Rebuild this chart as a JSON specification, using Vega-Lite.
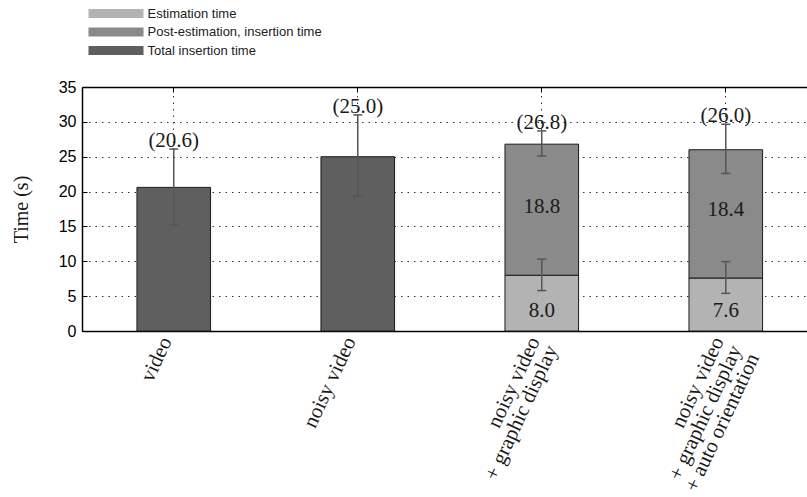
{
  "$schema": "https://vega.github.io/schema/vega-lite/v6.json",
  "width": 725,
  "height": 244,
  "autosize": {"type": "none"},
  "padding": {"left": 82, "top": 87, "right": 0, "bottom": 166},
  "background": "white",
  "data": {
    "values": [
      {"cond": "video", "part": "Total insertion time", "start": 0, "end": 20.6, "errLo": 15.2, "errHi": 26.1, "top": "(20.6)"},
      {"cond": "noisy video", "part": "Total insertion time", "start": 0, "end": 25.0, "errLo": 19.3, "errHi": 31.0, "top": "(25.0)"},
      {"cond": "noisy video + graphic display", "part": "Estimation time", "start": 0, "end": 8.0, "errLo": 5.8, "errHi": 10.3, "seg": "8.0"},
      {"cond": "noisy video + graphic display", "part": "Post-estimation, insertion time", "start": 8.0, "end": 26.8, "errLo": 25.1, "errHi": 28.7, "top": "(26.8)", "seg": "18.8"},
      {"cond": "noisy video + graphic display + auto orientation", "part": "Estimation time", "start": 0, "end": 7.6, "errLo": 5.4, "errHi": 9.95, "seg": "7.6"},
      {"cond": "noisy video + graphic display + auto orientation", "part": "Post-estimation, insertion time", "start": 7.6, "end": 26.0, "errLo": 22.6, "errHi": 29.65, "top": "(26.0)", "seg": "18.4"}
    ]
  },
  "resolve": {"axis": {"x": "independent"}},
  "layer": [
    {
      "mark": {"type": "rule", "opacity": 0},
      "encoding": {
        "x": {
          "field": "cond", "type": "nominal",
          "sort": ["video", "noisy video", "noisy video + graphic display", "noisy video + graphic display + auto orientation"],
          "scale": {"paddingInner": 0.6, "paddingOuter": 0.27, "align": 0.553},
          "axis": {
            "orient": "top", "title": null, "labels": false, "domain": true, "domainColor": "#000", "domainWidth": 1.5,
            "ticks": true, "tickSize": -5, "tickColor": "#000", "tickWidth": 1, "bandPosition": 0.5,
            "grid": true, "gridDash": [1.5, 5], "gridColor": "#333", "gridWidth": 1, "gridOpacity": 1
          }
        },
        "y": {"field": "errLo", "type": "quantitative", "title": "Time (s)", "scale": {"domain": [0, 35], "nice": false}},
        "y2": {"field": "errHi"}
      }
    },
    {
      "mark": {"type": "bar", "stroke": "#1a1a1a", "strokeWidth": 1},
      "encoding": {
        "x": {
          "field": "cond", "type": "nominal",
          "sort": ["video", "noisy video", "noisy video + graphic display", "noisy video + graphic display + auto orientation"],
          "axis": {
            "orient": "bottom", "title": null, "domain": true, "domainColor": "#000", "domainWidth": 1.5,
            "ticks": false, "grid": false,
            "labelAngle": -65, "labelAlign": "right", "labelBaseline": "middle", "labelPadding": 7, "labelOffset": -7,
            "labelFont": "Liberation Serif", "labelFontSize": 21, "labelLineHeight": 19.5, "labelColor": "#1a1a1a",
            "labelLimit": 0, "labelOverlap": false, "labelBound": false,
            "labelExpr": "datum.label == 'noisy video + graphic display' ? ['noisy video\u00a0\u00a0\u00a0\u00a0\u00a0\u00a0\u00a0\u00a0\u00a0', '+ graphic display'] : datum.label == 'noisy video + graphic display + auto orientation' ? ['noisy video\u00a0\u00a0\u00a0\u00a0\u00a0\u00a0\u00a0\u00a0\u00a0\u00a0', '+ graphic display', '+ auto orientation'] : datum.label"
          }
        },
        "y": {"field": "end", "type": "quantitative", "title": "Time (s)"},
        "y2": {"field": "start"},
        "color": {
          "field": "part", "type": "nominal",
          "scale": {
            "domain": ["Estimation time", "Post-estimation, insertion time", "Total insertion time"],
            "range": ["#b3b3b3", "#8a8a8a", "#5f5f5f"]
          },
          "legend": {
            "title": null, "orient": "none", "legendX": 5, "legendY": -80, "direction": "vertical",
            "symbolType": "M-5.5,-0.9H5.5V0.9H-5.5Z", "symbolSize": 100, "symbolStrokeWidth": 0, "symbolOpacity": 1,
            "symbolOffset": 22.5, "labelOffset": 25, "rowPadding": 4.5, "labelLimit": 0,
            "labelFont": "Liberation Sans", "labelFontSize": 13, "labelColor": "#222", "padding": 0
          }
        }
      }
    },
    {
      "mark": {"type": "rule", "color": "#555", "strokeWidth": 1.5},
      "encoding": {
        "x": {"field": "cond", "type": "nominal", "sort": ["video", "noisy video", "noisy video + graphic display", "noisy video + graphic display + auto orientation"], "axis": null},
        "y": {"field": "errLo", "type": "quantitative", "title": "Time (s)"},
        "y2": {"field": "errHi"}
      }
    },
    {
      "mark": {"type": "tick", "color": "#555", "size": 9, "thickness": 1.5, "opacity": 1},
      "encoding": {
        "x": {"field": "cond", "type": "nominal", "sort": ["video", "noisy video", "noisy video + graphic display", "noisy video + graphic display + auto orientation"], "axis": null},
        "y": {"field": "errLo", "type": "quantitative", "title": "Time (s)"}
      }
    },
    {
      "mark": {"type": "tick", "color": "#555", "size": 9, "thickness": 1.5, "opacity": 1},
      "encoding": {
        "x": {"field": "cond", "type": "nominal", "sort": ["video", "noisy video", "noisy video + graphic display", "noisy video + graphic display + auto orientation"], "axis": null},
        "y": {"field": "errHi", "type": "quantitative", "title": "Time (s)"}
      }
    },
    {
      "transform": [{"filter": "isValid(datum.top)"}],
      "mark": {"type": "text", "font": "Liberation Serif", "fontSize": 21, "color": "#1a1a1a", "baseline": "bottom", "dy": 2},
      "encoding": {
        "x": {"field": "cond", "type": "nominal", "sort": ["video", "noisy video", "noisy video + graphic display", "noisy video + graphic display + auto orientation"], "axis": null},
        "y": {"field": "errHi", "type": "quantitative", "title": "Time (s)"},
        "text": {"field": "top"}
      }
    },
    {
      "transform": [{"filter": "datum.part == 'Post-estimation, insertion time'"}],
      "mark": {"type": "text", "font": "Liberation Serif", "fontSize": 21, "color": "#1a1a1a", "baseline": "middle", "dy": -68},
      "encoding": {
        "x": {"field": "cond", "type": "nominal", "sort": ["video", "noisy video", "noisy video + graphic display", "noisy video + graphic display + auto orientation"], "axis": null},
        "y": {"field": "start", "type": "quantitative", "title": "Time (s)"},
        "text": {"field": "seg"}
      }
    },
    {
      "transform": [{"filter": "datum.part == 'Estimation time'"}],
      "mark": {"type": "text", "font": "Liberation Serif", "fontSize": 21, "color": "#1a1a1a", "baseline": "middle", "dy": -20},
      "encoding": {
        "x": {"field": "cond", "type": "nominal", "sort": ["video", "noisy video", "noisy video + graphic display", "noisy video + graphic display + auto orientation"], "axis": null},
        "y": {"field": "start", "type": "quantitative", "title": "Time (s)"},
        "text": {"field": "seg"}
      }
    }
  ],
  "config": {
    "view": {"stroke": null},
    "axisY": {
      "tickCount": 7,
      "grid": true, "gridDash": [1.5, 5], "gridColor": "#333", "gridWidth": 1, "gridOpacity": 1,
      "domain": true, "domainColor": "#000", "domainWidth": 1.5,
      "ticks": true, "tickSize": -5, "tickColor": "#000", "tickWidth": 1,
      "labelFont": "Liberation Sans", "labelFontSize": 16, "labelColor": "#000", "labelPadding": 11,
      "labelOverlap": false, "labelFlush": false,
      "titleFont": "Liberation Serif", "titleFontSize": 20, "titleFontWeight": "normal", "titleColor": "#1a1a1a", "titlePadding": 27
    }
  }
}
